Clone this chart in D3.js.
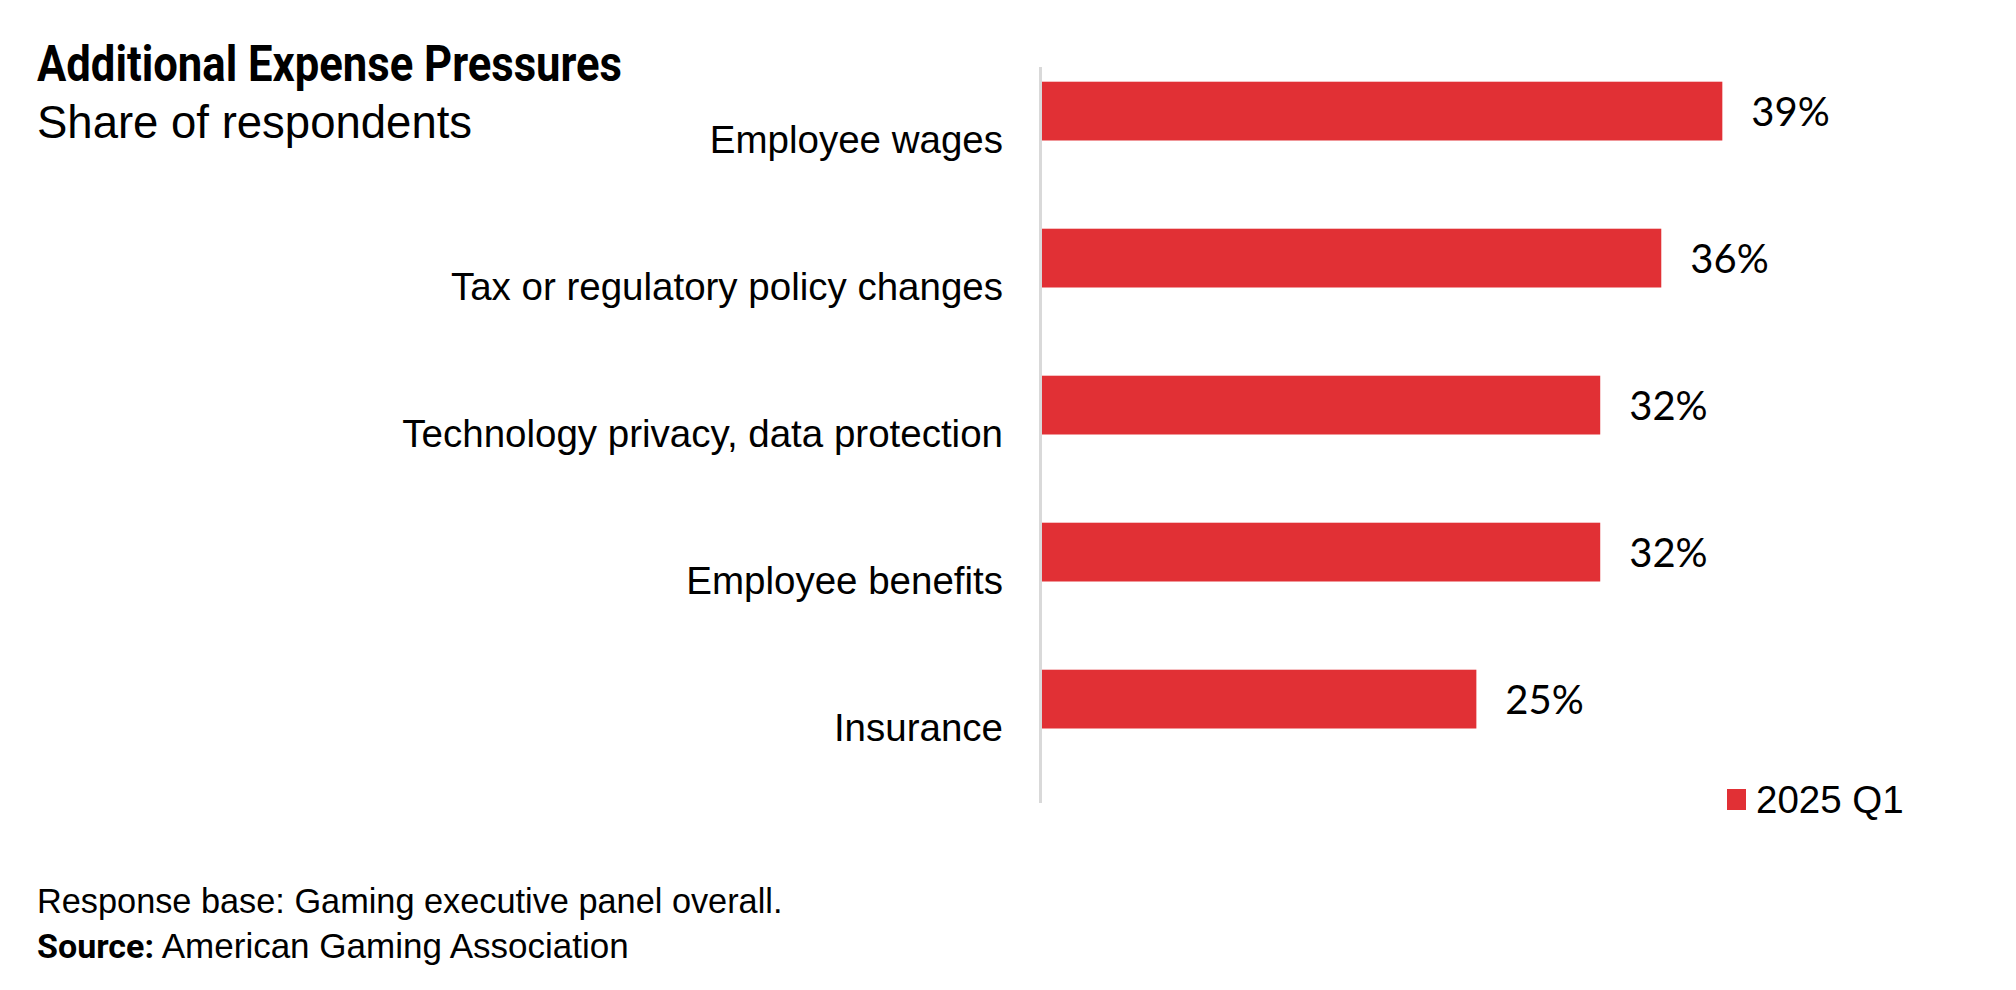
<!DOCTYPE html>
<html>
<head>
<meta charset="utf-8">
<script src="https://cdn.jsdelivr.net/npm/d3@7"></script>
<style>
  html, body { margin: 0; padding: 0; background: #ffffff; }
  svg { display: block; }
</style>
</head>
<body>
<svg id="chart" width="2016" height="990"></svg>
<script>
// ---- data ----
const categories = [
  "Employee wages",
  "Tax or regulatory policy changes",
  "Technology privacy, data protection",
  "Employee benefits",
  "Insurance"
];
const values2025Q1 = [39, 35.5, 32, 32, 24.9];
const seriesNames = ["2025 Q1"];
const titleText = "Additional Expense Pressures";
const subtitleText = "Share of respondents";
const noteText = "Response base: Gaming executive panel overall.";
const sourceLabel = "Source:";
const sourceText = " American Gaming Association";

// ---- layout ----
const svg = d3.select("#chart");
const sansFont = "'Liberation Sans', Arial, sans-serif";
const boldFont = "Roboto, 'Liberation Sans', Arial, sans-serif";
const labelFont = "Lato, 'Liberation Sans', sans-serif";
const barColor = "#E13035";

const x = d3.scaleLinear().domain([0, 45]).range([1042, 1827]);
const y = d3.scaleBand().domain(categories).range([67, 802])
  .paddingInner(0.2).paddingOuter(0.1);
const barH = y.bandwidth() / 2;

// title
svg.append("text")
  .attr("x", 37).attr("y", 81)
  .attr("font-family", boldFont)
  .attr("font-weight", "bold")
  .attr("font-size", 50)
  .attr("textLength", 585)
  .attr("lengthAdjust", "spacingAndGlyphs")
  .attr("fill", "#000")
  .text(titleText);

svg.append("text")
  .attr("x", 37).attr("y", 138)
  .attr("font-family", sansFont)
  .attr("font-size", 45.5)
  .attr("fill", "#000")
  .text(subtitleText);

// bars
const data = categories.map((c, i) => ({ cat: c, v: values2025Q1[i] }));

svg.append("g").selectAll("rect")
  .data(data)
  .join("rect")
  .attr("x", x(0))
  .attr("y", d => y(d.cat))
  .attr("width", d => x(d.v) - x(0))
  .attr("height", barH)
  .attr("fill", barColor);

// value labels
svg.append("g").selectAll("text")
  .data(data)
  .join("text")
  .attr("x", d => x(d.v) + 29)
  .attr("y", d => y(d.cat) + barH / 2 + 15)
  .attr("font-family", labelFont)
  .attr("font-size", 40)
  .attr("fill", "#000")
  .text(d => Math.round(d.v) + "%");

// category axis
const yAxis = d3.axisLeft(y).tickSize(0).tickPadding(0);
const gy = svg.append("g").attr("transform", `translate(${x(0) - 1},0)`).call(yAxis);
gy.select(".domain").remove();
gy.selectAll(".tick").attr("transform", d => `translate(0,${y(d) + y.bandwidth() / 2})`);
gy.selectAll(".tick text")
  .attr("x", -38)
  .attr("dy", null)
  .attr("y", 12)
  .attr("font-family", sansFont)
  .attr("font-size", 38.5)
  .attr("fill", "#000")
  .attr("text-anchor", "end");

// axis line
svg.append("line")
  .attr("x1", x(0) - 1.5).attr("x2", x(0) - 1.5)
  .attr("y1", y.range()[0]).attr("y2", y.range()[1] + 1)
  .attr("stroke", "#d9d9d9")
  .attr("stroke-width", 3);

// legend
const lg = svg.append("g").attr("transform", "translate(1727,789)");
lg.selectAll("rect").data(seriesNames).join("rect")
  .attr("x", 0).attr("y", 0).attr("width", 19).attr("height", 21)
  .attr("fill", barColor);
lg.selectAll("text").data(seriesNames).join("text")
  .attr("x", 29).attr("y", 24)
  .attr("font-family", sansFont)
  .attr("font-size", 38.5)
  .attr("fill", "#000")
  .text(d => d);

// footnotes
svg.append("text")
  .attr("x", 37).attr("y", 913)
  .attr("font-family", sansFont)
  .attr("font-size", 34.3)
  .attr("fill", "#000")
  .text(noteText);

const src = svg.append("text")
  .attr("x", 37).attr("y", 958)
  .attr("font-family", sansFont)
  .attr("font-size", 35)
  .attr("fill", "#000");
src.append("tspan").attr("font-family", boldFont).attr("font-weight", "bold").attr("font-size", 34).text(sourceLabel);
src.append("tspan").text(sourceText);
</script>
</body>
</html>
